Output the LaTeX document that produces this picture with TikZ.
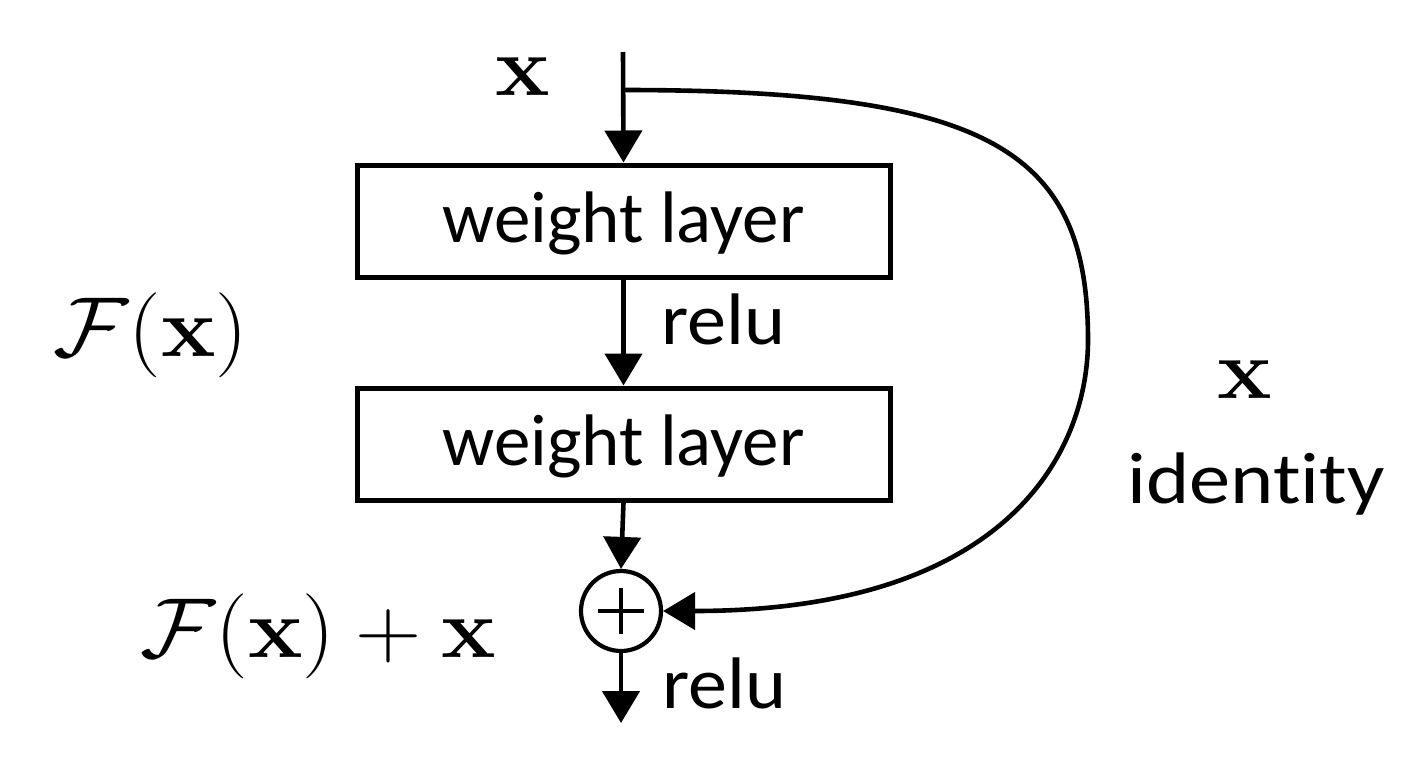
\RequirePackage{fix-cm}
\documentclass[tikz,border=0pt]{standalone}
\usepackage[no-math]{fontspec}
\newfontfamily\calibri[Ligatures=NoCommon]{Carlito}
\usetikzlibrary{arrows.meta}
\newcommand{\sanssize}{\fontsize{36.5}{44}\selectfont\calibri}
\newcommand{\mathsize}{\fontsize{42.5}{50}\selectfont}
\begin{document}
\begin{tikzpicture}[x=0.5pt,y=-0.5pt,
  wbox/.style={draw, line width=2.5pt, minimum width=266.5pt, minimum height=56pt,
    inner sep=0pt, text height=25pt, text depth=4pt, font=\sanssize},
  sumnode/.style={draw, circle, line width=2.1pt, minimum size=40pt, inner sep=0pt},
  arr/.style={-{Triangle[width=18.5pt,length=16pt]}, line width=2.3pt},
  lab/.style={inner sep=0pt, anchor=base west, font=\sanssize},
  mth/.style={inner sep=0pt, font=\mathsize, xscale=1.08}]
\useasboundingbox (0,0) rectangle (1419,777);
% main column
\coordinate (top) at (623,52);
\coordinate (split) at (623,90);
\node[wbox] (b1) at (623.5,221) {weight layer};
\node[wbox] (b2) at (623.5,444) {weight layer};
\node[sumnode] (sum) at (621,611) {};
\draw[line width=2.2pt] ([xshift=-11.5pt]sum.center) -- ([xshift=11.5pt]sum.center);
\draw[line width=2.2pt] ([yshift=-11.5pt]sum.center) -- ([yshift=11.5pt]sum.center);
\coordinate (out) at (621,723);
% connectors
\draw[arr] (top) -- (b1.north);
\draw[arr] (b1.south) -- (b2.north);
\draw[arr] (b2.south) -- (sum.north);
\draw[arr] (sum.south) -- (out);
\draw[arr] (split) .. controls (990,90) and (1088,150) .. (1088,340)
  .. controls (1088,450) and (1010,611) .. (sum.east);
% labels
\node[lab, xscale=1.07] (r1) at (661,344) {relu};
\node[lab, xscale=1.07] (r2) at (662,708) {relu};
\node[lab, xscale=1.13] (id) at (1127,503) {identity};
\node[mth, anchor=base] (xin) at (523,95) {$\mathbf{x}$};
\node[mth, anchor=base] (xid) at (1245,398) {$\mathbf{x}$};
\node[mth, anchor=base west] (fx) at (53,356) {$\mathcal{F}(\mathbf{x})$};
\node[mth, anchor=base west] (fxx) at (140,657) {$\mathcal{F}(\mathbf{x}) + \mathbf{x}$};
\end{tikzpicture}
\end{document}
